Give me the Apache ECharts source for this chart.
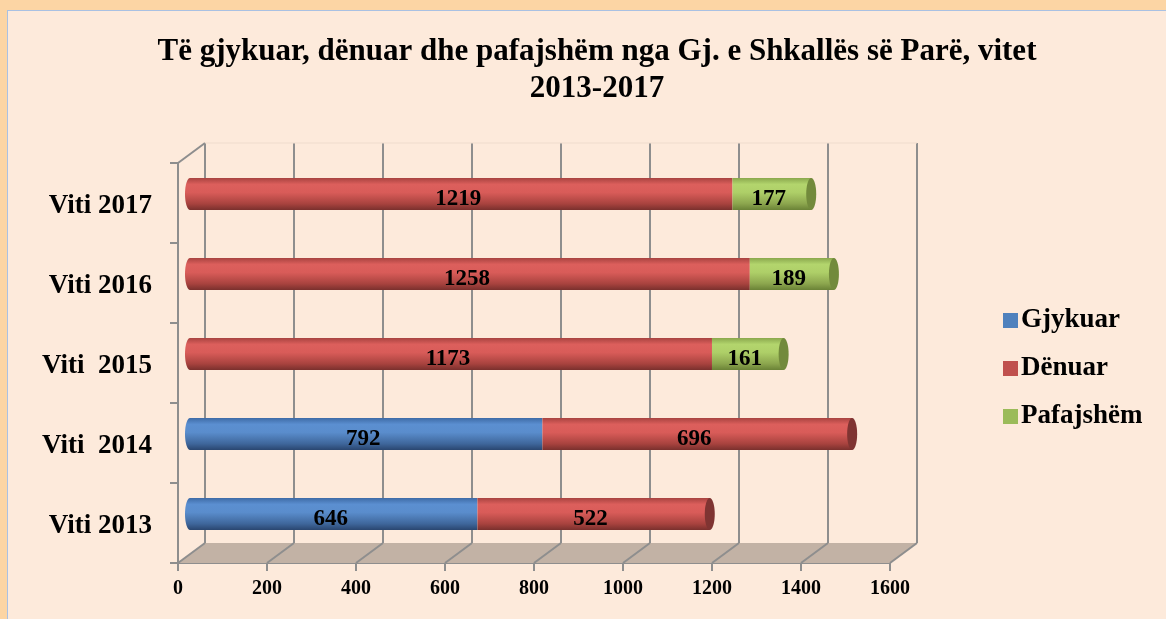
<!DOCTYPE html>
<html>
<head>
<meta charset="utf-8">
<script src="https://cdn.jsdelivr.net/npm/echarts@6/dist/echarts.min.js"></script>
<style>
  html, body { margin: 0; padding: 0; }
  #wrap { position: relative; width: 1166px; height: 619px; overflow: hidden; background: #fcd5a4; }
  #panel { position: absolute; left: 7px; top: 10px; width: 1180px; height: 640px; background: #fdeadb; border: 1px solid #a9c1e3; }
  #chart { position: absolute; left: 0; top: 0; width: 1166px; height: 619px; }
</style>
</head>
<body>
<div id="wrap">
  <div id="panel"></div>
  <div id="chart"></div>
</div>
<script>
// te dhenat
const categories = ['Viti 2013', 'Viti  2014', 'Viti  2015', 'Viti 2016', 'Viti 2017']
const gjykuar = [646, 792, 0, 0, 0]
const denuar = [522, 696, 1173, 1258, 1219]
const pafajshem = [0, 0, 161, 189, 177]
const xTicks = [0, 200, 400, 600, 800, 1000, 1200, 1400, 1600]

const serif = '"Liberation Serif", "DejaVu Serif", serif'
const gridColor = '#8e8e8e'

const seriesDefs = [
  {
    name: 'Gjykuar', values: gjykuar, flat: '#4f81bd', cap: '#2f507c',
    stops: ['#3e6ba6', '#5b8fd1', '#5a8dcc', '#3f679c', '#2a4670']
  },
  {
    name: 'Dënuar', values: denuar, flat: '#c0504d', cap: '#7f3432',
    stops: ['#a84340', '#dc5f5c', '#d95c59', '#a9433f', '#7a302d']
  },
  {
    name: 'Pafajshëm', values: pafajshem, flat: '#9bbb59', cap: '#728a3c',
    stops: ['#8aa84d', '#b3d56d', '#aecf68', '#8ca64e', '#6a8236']
  }
]

function gradient (stops) {
  return new echarts.graphic.LinearGradient(0, 0, 0, 1, [
    { offset: 0, color: stops[0] },
    { offset: 0.2, color: stops[1] },
    { offset: 0.45, color: stops[2] },
    { offset: 0.8, color: stops[3] },
    { offset: 1, color: stops[4] }
  ])
}

// stacked start/end per row
const offsets = categories.map(() => 0)
const barSeries = seriesDefs.map((def, si) => {
  const data = []
  def.values.forEach((v, ci) => {
    if (!v) return
    const start = offsets[ci]
    const end = start + v
    offsets[ci] = end
    const isFirst = seriesDefs.slice(0, si).every(d => !d.values[ci])
    const isLast = seriesDefs.slice(si + 1).every(d => !d.values[ci])
    data.push([start, end, ci, v, isFirst ? 1 : 0, isLast ? 1 : 0])
  })
  return {
    name: def.name,
    type: 'custom',
    xAxisIndex: 2,
    yAxisIndex: 2,
    itemStyle: { color: def.flat },
    encode: { x: [0, 1], y: 2 },
    data: data,
    z: 10,
    renderItem: function (params, api) {
      const p0 = api.coord([api.value(0), api.value(2)])
      const p1 = api.coord([api.value(1), api.value(2)])
      const h = api.size([0, 1])[1] * 0.4
      const ry = h / 2
      const rx = 5
      const children = []
      if (api.value(4)) {
        children.push({
          type: 'ellipse',
          shape: { cx: p0[0], cy: p0[1], rx: rx, ry: ry },
          style: { fill: gradient(def.stops) }
        })
      }
      children.push({
        type: 'rect',
        shape: { x: p0[0], y: p0[1] - ry, width: p1[0] - p0[0], height: h },
        style: { fill: gradient(def.stops) }
      })
      if (api.value(5)) {
        children.push({
          type: 'ellipse',
          shape: { cx: p1[0], cy: p1[1], rx: rx, ry: ry },
          style: { fill: def.cap }
        })
      }
      children.push({
        type: 'text',
        style: {
          text: String(api.value(3)),
          x: (p0[0] + p1[0]) / 2 - 3,
          y: p0[1] + 5,
          align: 'center',
          verticalAlign: 'middle',
          fill: '#000',
          fontFamily: serif,
          fontWeight: 'bold',
          fontSize: 23
        }
      })
      return { type: 'group', children: children }
    }
  }
})

// floor + left wall of the 3D box
const frameSeries = {
  type: 'custom',
  xAxisIndex: 0,
  yAxisIndex: 0,
  silent: true,
  data: [[0, 0]],
  z: 1,
  renderItem: function (params, api) {
    const cs = params.coordSys
    const dx = 27
    const dy = -20
    const x0 = cs.x
    const yb = cs.y + cs.height
    const x1 = cs.x + cs.width
    const children = [{
      type: 'polygon',
      shape: { points: [[x0, yb], [x1, yb], [x1 + dx, yb + dy], [x0 + dx, yb + dy]] },
      style: { fill: '#c2b2a5' }
    }]
    xTicks.forEach(t => {
      const x = api.coord([t, 0])[0]
      children.push({
        type: 'line',
        shape: { x1: x, y1: yb, x2: x + dx, y2: yb + dy },
        style: { stroke: gridColor, lineWidth: 2 }
      })
    })
    children.push({
      type: 'line',
      shape: { x1: x0, y1: cs.y, x2: x0 + dx, y2: cs.y + dy },
      style: { stroke: gridColor, lineWidth: 2 }
    })
    children.push({
      type: 'line',
      shape: { x1: x0 + dx, y1: cs.y + dy, x2: x1 + dx, y2: cs.y + dy },
      style: { stroke: '#efdccd', lineWidth: 1 }
    })
    return { type: 'group', children: children }
  }
}

const myChart = echarts.init(document.getElementById('chart'), null, { renderer: 'canvas' })

const option = {
  backgroundColor: 'transparent',
  animation: false,
  title: {
    text: 'Të gjykuar, dënuar dhe pafajshëm nga Gj. e Shkallës së Parë, vitet\n2013-2017',
    left: 592,
    top: 28,
    textAlign: 'center',
    textStyle: {
      fontFamily: serif,
      fontWeight: 'bold',
      fontSize: 31,
      lineHeight: 37,
      color: '#000'
    }
  },
  legend: {
    orient: 'vertical',
    left: 998,
    top: 302,
    icon: 'rect',
    itemWidth: 15,
    itemHeight: 15,
    itemGap: 21,
    data: seriesDefs.map(d => d.name),
    textStyle: {
      fontFamily: serif,
      fontWeight: 'bold',
      fontSize: 27,
      color: '#000',
      padding: [0, 0, 0, -2]
    }
  },
  grid: [
    { left: 178, top: 163, width: 712, height: 400 },
    { left: 205, top: 143, width: 712, height: 400 },
    { left: 190, top: 154, width: 712, height: 400 }
  ],
  xAxis: [
    {
      gridIndex: 0,
      type: 'value',
      min: 0,
      max: 1600,
      interval: 200,
      axisLine: { show: true, lineStyle: { color: gridColor, width: 2 } },
      axisTick: { show: true, length: 8, lineStyle: { color: gridColor, width: 2 } },
      splitLine: { show: false },
      axisLabel: {
        margin: 16,
        color: '#000',
        fontFamily: serif,
        fontWeight: 'bold',
        fontSize: 20,
        formatter: v => String(v)
      }
    },
    {
      gridIndex: 1,
      type: 'value',
      min: 0,
      max: 1600,
      interval: 200,
      axisLine: { show: false },
      axisTick: { show: false },
      axisLabel: { show: false },
      splitLine: { show: true, lineStyle: { color: gridColor, width: 2 } }
    },
    {
      gridIndex: 2,
      type: 'value',
      min: 0,
      max: 1600,
      show: false
    }
  ],
  yAxis: [
    {
      gridIndex: 0,
      type: 'category',
      data: categories,
      axisLine: { show: true, lineStyle: { color: gridColor, width: 2 } },
      axisTick: { show: true, length: 8, lineStyle: { color: gridColor, width: 2 } },
      axisLabel: {
        margin: 26,
        color: '#000',
        fontFamily: serif,
        fontWeight: 'bold',
        fontSize: 27,
        verticalAlign: 'top',
        lineHeight: 7
      }
    },
    { gridIndex: 1, type: 'category', data: categories, show: false },
    { gridIndex: 2, type: 'category', data: categories, show: false }
  ],
  series: [frameSeries].concat(barSeries)
}

myChart.setOption(option)
</script>
</body>
</html>
